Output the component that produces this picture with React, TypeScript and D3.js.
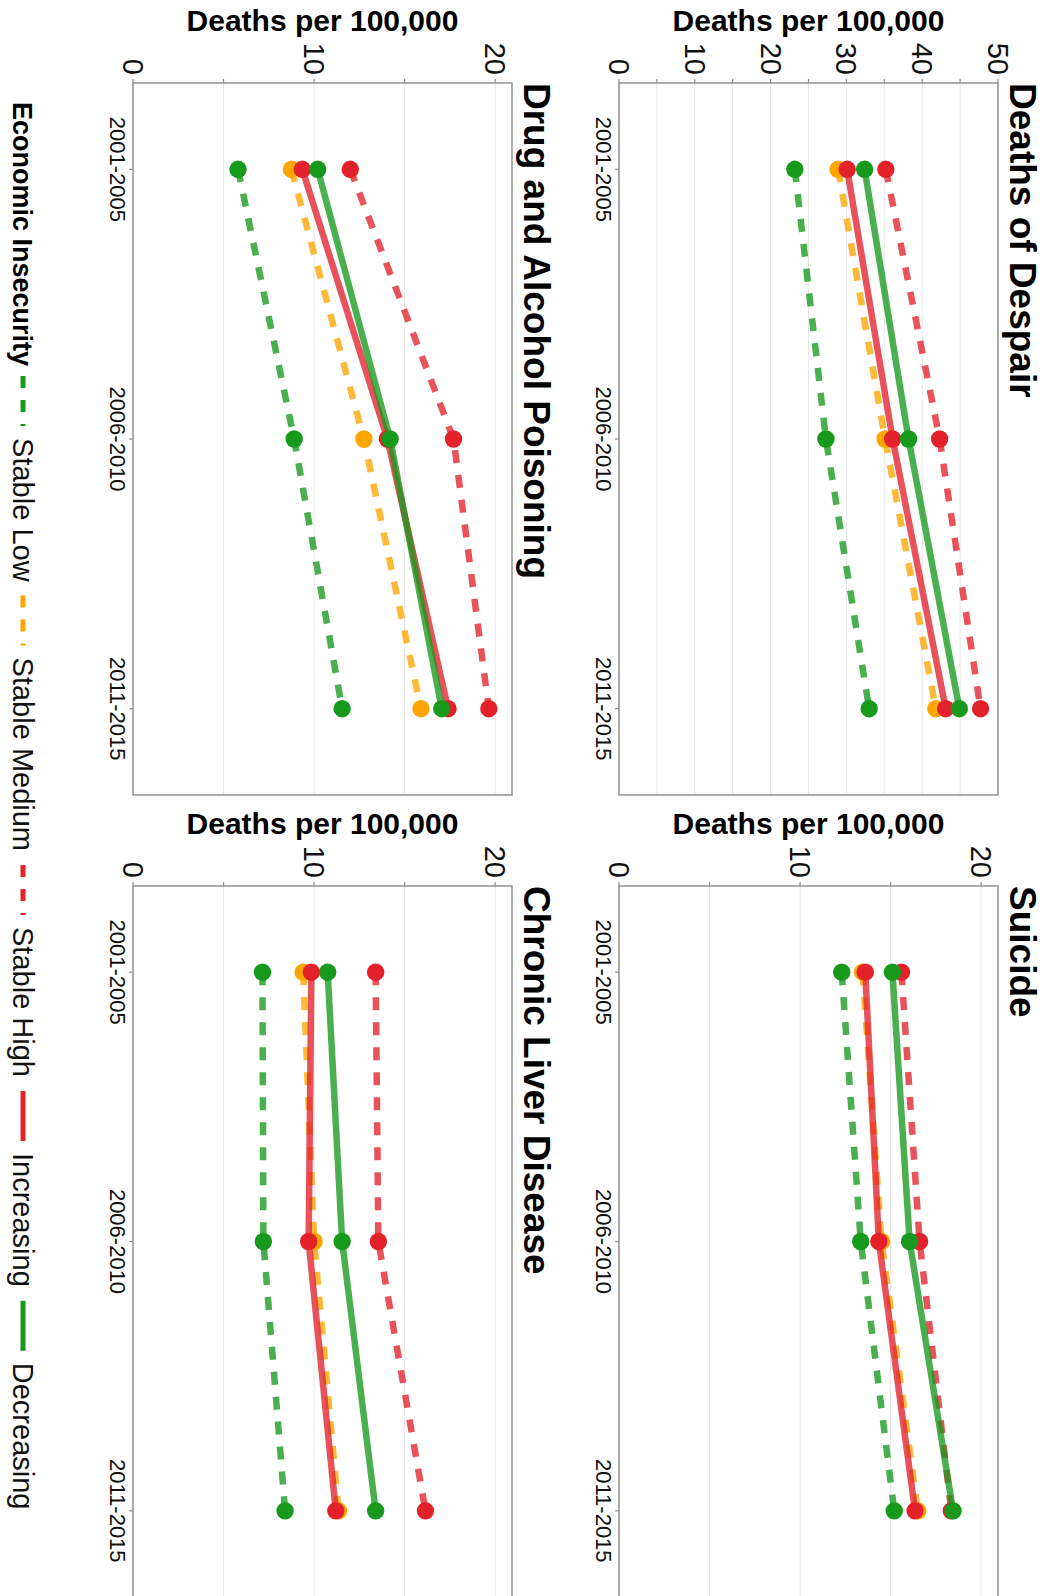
import React, { useEffect, useRef } from 'react';
import * as d3 from 'd3';

// categories
const periods = ['2001-2005', '2006-2010', '2011-2015'];
const groups = ['Stable Low', 'Stable Medium', 'Stable High', 'Increasing', 'Decreasing'];
const groupColors = ['#17991c', '#ffa500', '#e2212b', '#e2212b', '#17991c'];
const groupDashed = [true, true, true, false, false];

const panelTitles = ['Deaths of Despair', 'Suicide', 'Drug and Alcohol Poisoning', 'Chronic Liver Disease'];
const panelMax = [50, 20.93, 20.93, 20.93];

// values per group (Stable Low, Stable Medium, Stable High, Increasing, Decreasing)
const despairValues = [
  [23.2, 27.3, 33.0],
  [28.9, 35.1, 41.8],
  [35.2, 42.3, 47.7],
  [30.1, 36.1, 43.1],
  [32.4, 38.2, 44.9],
];
const suicideValues = [
  [12.3, 13.35, 15.2],
  [13.45, 14.5, 16.5],
  [15.6, 16.6, 18.35],
  [13.6, 14.35, 16.35],
  [15.1, 16.05, 18.45],
];
const drugValues = [
  [5.8, 8.9, 11.55],
  [8.75, 12.75, 15.9],
  [12.0, 17.7, 19.65],
  [9.35, 14.05, 17.4],
  [10.2, 14.2, 17.05],
];
const liverValues = [
  [7.15, 7.2, 8.4],
  [9.4, 10.0, 11.35],
  [13.4, 13.55, 16.15],
  [9.85, 9.7, 11.2],
  [10.75, 11.55, 13.4],
];
const panelValues = [despairValues, suicideValues, drugValues, liverValues];

const yTitle = 'Deaths per 100,000';
const legendTitle = 'Economic Insecurity';

export default function App() {
  const ref = useRef<SVGSVGElement>(null);

  useEffect(() => {
    const svg = d3.select(ref.current);
    svg.selectAll('*').remove();
    const H = 1047; // height of the un-rotated chart
    const font = 'Liberation Sans, Arial, Helvetica, sans-serif';

    // chart is drawn upright and then turned a quarter clockwise
    const root = svg.append('g')
      .attr('transform', `translate(${H},0) rotate(90)`)
      .attr('font-family', font);

    const cols = [[83, 795], [886, 1597]];
    const rows = [[49, 428], [535, 914]];

    panelTitles.forEach((title, p) => {
      const [x0, x1] = cols[p % 2];
      const [y0, y1] = rows[Math.floor(p / 2)];
      const ymax = panelMax[p];
      const g = root.append('g');

      const x = d3.scalePoint<string>().domain(periods).range([x0, x1]).padding(0.32);
      const y = d3.scaleLinear().domain([0, ymax]).range([y1, y0]);
      const ticks = d3.range(0, ymax + 0.01, 5);

      // grid
      g.selectAll('.grid').data(ticks).enter().append('line')
        .attr('x1', x0).attr('x2', x1)
        .attr('y1', d => y(d)).attr('y2', d => y(d))
        .attr('stroke', '#e6e6e6').attr('stroke-width', 1);

      // border
      g.append('rect')
        .attr('x', x0).attr('y', y0)
        .attr('width', x1 - x0).attr('height', y1 - y0)
        .attr('fill', 'none').attr('stroke', '#8c8c8c').attr('stroke-width', 1.4);

      // y ticks + labels
      g.selectAll('.yt').data(ticks).enter().append('line')
        .attr('x1', x0 - 4).attr('x2', x0)
        .attr('y1', d => y(d)).attr('y2', d => y(d))
        .attr('stroke', '#8c8c8c').attr('stroke-width', 1.2);
      g.selectAll('.yl').data(ticks.filter(d => d % 10 === 0)).enter().append('text')
        .attr('x', x0 - 8).attr('y', d => y(d))
        .attr('text-anchor', 'end').attr('dominant-baseline', 'central')
        .attr('font-size', 29).attr('fill', '#111')
        .text(d => d);

      // x ticks + labels
      g.selectAll('.xt').data(periods).enter().append('line')
        .attr('x1', d => x(d)!).attr('x2', d => x(d)!)
        .attr('y1', y1).attr('y2', y1 + 4)
        .attr('stroke', '#8c8c8c').attr('stroke-width', 1.2);
      g.selectAll('.xl').data(periods).enter().append('text')
        .attr('x', d => x(d)!).attr('y', y1 + 23)
        .attr('text-anchor', 'middle')
        .attr('font-size', 22).attr('fill', '#111')
        .text(d => d);

      // axis title
      g.append('text')
        .attr('transform', `translate(${x0 - 52},${(y0 + y1) / 2}) rotate(-90)`)
        .attr('text-anchor', 'middle')
        .attr('font-size', 30).attr('font-weight', 'bold')
        .text(yTitle);

      // facet title
      g.append('text')
        .attr('x', x0).attr('y', y0 - 11.5)
        .attr('font-size', 37).attr('font-weight', 'bold')
        .text(title);

      const line = d3.line<number>()
        .x((d, i) => x(periods[i])!)
        .y(d => y(d));

      const vals = panelValues[p];
      vals.forEach((series, k) => {
        g.append('path')
          .attr('d', line(series))
          .attr('fill', 'none')
          .attr('stroke', groupColors[k])
          .attr('stroke-opacity', 0.78)
          .attr('stroke-width', 6.5)
          .attr('stroke-dasharray', groupDashed[k] ? '13,12' : null);
      });
      vals.forEach((series, k) => {
        g.selectAll(null).data(series).enter().append('circle')
          .attr('cx', (d, i) => x(periods[i])!)
          .attr('cy', d => y(d))
          .attr('r', 8.7)
          .attr('fill', groupColors[k]);
      });
    });

    // legend
    const lg = root.append('g');
    const ly = 1024;
    let cx = 102;
    const t = lg.append('text')
      .attr('x', cx).attr('y', ly + 10)
      .attr('font-size', 27).attr('font-weight', 'bold')
      .text(legendTitle);
    cx += (t.node() as SVGTextElement).getComputedTextLength() + 10;
    groups.forEach((name, k) => {
      lg.append('line')
        .attr('x1', cx).attr('x2', cx + 50)
        .attr('y1', ly).attr('y2', ly)
        .attr('stroke', groupColors[k]).attr('stroke-width', 5)
        .attr('stroke-dasharray', groupDashed[k] ? '12,12' : null);
      cx += 62;
      const lt = lg.append('text')
        .attr('x', cx).attr('y', ly + 10.5)
        .attr('font-size', 29).attr('fill', '#111')
        .text(name);
      cx += (lt.node() as SVGTextElement).getComputedTextLength() + 14;
    });
  }, []);

  return (
    <svg
      ref={ref}
      width={1047}
      height={1596}
      style={{ position: 'absolute', left: 0, top: 0, background: '#fff' }}
    />
  );
}
